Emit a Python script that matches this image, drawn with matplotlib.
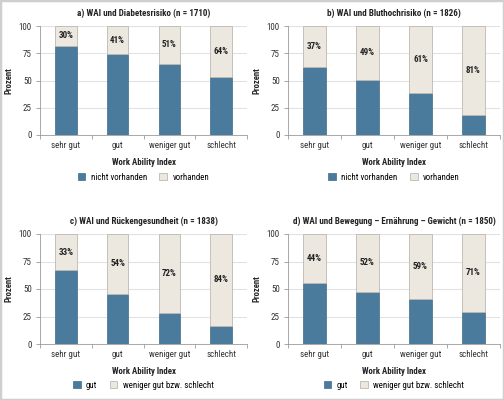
import matplotlib.pyplot as plt
from matplotlib.patches import Patch, Rectangle

plt.rcParams['font.family'] = ['Roboto Condensed', 'Fira Sans Condensed',
                               'Archivo Narrow', 'Saira SemiCondensed',
                               'DejaVu Sans']

# ── Data ───────────────────────────────────────────────────────────────────────
categories = ['sehr gut', 'gut', 'weniger gut', 'schlecht']

titles = ['a) WAI und Diabetesrisiko (n = 1710)',
          'b) WAI und Bluthochrisiko (n = 1826)',
          'c) WAI und Rückengesundheit (n = 1838)',
          'd) WAI und Bewegung – Ernährung – Gewicht (n = 1850)']

legend_labels = [('nicht vorhanden', 'vorhanden'),
                 ('nicht vorhanden', 'vorhanden'),
                 ('gut', 'weniger gut bzw. schlecht'),
                 ('gut', 'weniger gut bzw. schlecht')]

# lower (blue) segment heights as drawn
lower_a = [82, 74, 65.5, 53]
lower_b = [62.5, 50.6, 38.7, 18.3]
lower_c = [67, 45.5, 28, 16.4]
lower_d = [55.8, 47.6, 41.2, 29.1]

# upper (beige) segment heights as drawn
upper_a = [18, 26, 34.5, 47]
upper_b = [37.5, 49.4, 61.3, 81.7]
upper_c = [33, 54.5, 72, 83.6]
upper_d = [44.2, 52.4, 58.8, 70.9]

# printed percentages
labels_a = ['30%', '41%', '51%', '64%']
labels_b = ['37%', '49%', '61%', '81%']
labels_c = ['33%', '54%', '72%', '84%']
labels_d = ['44%', '52%', '59%', '71%']

lowers = [lower_a, lower_b, lower_c, lower_d]
uppers = [upper_a, upper_b, upper_c, upper_d]
pct_labels = [labels_a, labels_b, labels_c, labels_d]

# ── Style ──────────────────────────────────────────────────────────────────────
BLUE = '#4a7b9d'
BEIGE = '#ece8e0'
EDGE_BEIGE = '#bdb9b1'
GRID = '#e2e2e2'
AXIS = '#9a9a9a'
TXT = '#222222'

W, H = 504, 400
# axes boxes in pixels: left, top, right, bottom ; legend row y
boxes = [(40, 26, 247, 135),
         (288, 26, 500, 135),
         (40, 234, 247, 344),
         (288, 234, 500, 344)]
legend_y = [177, 177, 385, 385]

fig = plt.figure(figsize=(W / 100, H / 100), dpi=100)
fig.patches.append(Rectangle((0, 0), 1, 1, transform=fig.transFigure,
                             fill=False, edgecolor='#cfcfcf', linewidth=2.5))

x = list(range(len(categories)))

for i, (l, t, r, b) in enumerate(boxes):
    ax = fig.add_axes([l / W, 1 - b / H, (r - l) / W, (b - t) / H])
    ax.bar(x, lowers[i], width=0.42, color=BLUE, edgecolor='#3f6b89',
           linewidth=0.5, zorder=3)
    ax.bar(x, uppers[i], width=0.42, bottom=lowers[i], color=BEIGE,
           edgecolor=EDGE_BEIGE, linewidth=0.6, zorder=3)
    for xi, lo, up, lab in zip(x, lowers[i], uppers[i], pct_labels[i]):
        ax.text(xi, lo + up / 2, lab, ha='center', va='center',
                fontsize=6.5, fontweight='bold', color=TXT, zorder=4)

    ax.set_xlim(-0.5, 3.5)
    ax.set_ylim(0, 100)
    ax.set_yticks([0, 25, 50, 75, 100])
    ax.yaxis.grid(True, color=GRID, linewidth=0.8, zorder=0)
    ax.set_xticks(x)
    ax.set_xticklabels(categories, fontsize=6.5, color='#333333')
    ax.set_xticks([-0.5, 0.5, 1.5, 2.5, 3.5], minor=True)
    ax.tick_params(axis='x', which='major', length=0, pad=4)
    ax.tick_params(axis='x', which='minor', length=3, color=AXIS, width=0.6)
    ax.tick_params(axis='y', length=3, color=AXIS, width=0.6,
                   labelsize=6.5, labelcolor='#333333', pad=3)
    for side in ['top', 'right']:
        ax.spines[side].set_visible(False)
    for side in ['left', 'bottom']:
        ax.spines[side].set_color(AXIS)
        ax.spines[side].set_linewidth(0.6)

    ax.set_title(titles[i], fontsize=6.5, fontweight='bold', pad=7, color=TXT)
    ax.set_ylabel('Prozent', fontsize=6.2, fontweight='bold', labelpad=3.5,
                  color=TXT)
    ax.set_xlabel('Work Ability Index', fontsize=6.3, fontweight='bold',
                  labelpad=6, color=TXT)

    handles = [Patch(facecolor=BLUE, edgecolor='#3f6b89', linewidth=0.5),
               Patch(facecolor=BEIGE, edgecolor=EDGE_BEIGE, linewidth=0.6)]
    ax.legend(handles, legend_labels[i], loc='center',
              bbox_to_anchor=(0.5, -(legend_y[i] - b) / (b - t)), ncol=2,
              frameon=False, fontsize=6.4, handlelength=0.85,
              handleheight=0.85, handletextpad=0.6, columnspacing=1.4)

plt.savefig('out.png', dpi=100)
